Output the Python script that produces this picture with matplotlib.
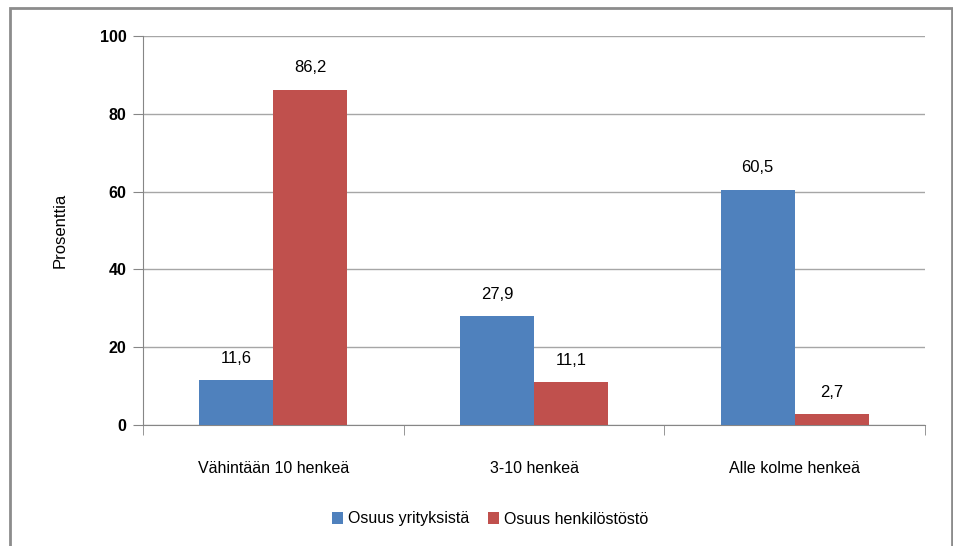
import matplotlib
matplotlib.use('Agg')

import matplotlib.pyplot as plt
from matplotlib.patches import Rectangle
import numpy as np

categories = ["Vähintään 10 henkeä", "3-10 henkeä", "Alle kolme henkeä"]
series_names = ["Osuus yrityksistä", "Osuus henkilöstöstö"]
yritykset = [11.6, 27.9, 60.5]
henkilosto = [86.2, 11.1, 2.7]
yticks = [0, 20, 40, 60, 80, 100]

blue = "#4F81BD"
red = "#C0504D"

plt.rcParams['font.family'] = ['Liberation Sans', 'DejaVu Sans']

fig = plt.figure(figsize=(9.54, 5.46), dpi=100)
ax = fig.add_axes([143 / 954, 1 - 425 / 546, (925 - 143) / 954, (425 - 36) / 546])

x = np.arange(len(categories))
w = 74 / 261
b1 = ax.bar(x - w / 2, yritykset, w, color=blue, label=series_names[0], zorder=3)
b2 = ax.bar(x + w / 2, henkilosto, w, color=red, label=series_names[1], zorder=3)

for bars, vals in [(b1, yritykset), (b2, henkilosto)]:
    for r, v in zip(bars, vals):
        ax.text(r.get_x() + r.get_width() / 2, v + 5.6, f"{v:.1f}".replace(".", ","),
                ha='center', va='center', fontsize=12, color='black')

ax.set_xlim(-0.5, 2.5)
ax.set_ylim(0, 100)
ax.set_yticks(yticks)
ax.set_yticklabels([str(t) for t in yticks], fontsize=11.5, fontweight='bold')
ax.set_xticks(x)
ax.set_xticklabels(categories, fontsize=11.5)
ax.set_xticks([-0.5, 0.5, 1.5, 2.5], minor=True)
ax.tick_params(axis='x', which='major', length=0, pad=26)
ax.tick_params(axis='x', which='minor', length=7, color='#868686', direction='out')
ax.tick_params(axis='y', length=7, color='#868686', direction='out', pad=5)
ax.yaxis.grid(True, color='#A6A6A6', linewidth=1, zorder=0)
ax.set_axisbelow(True)

for s in ['top', 'right']:
    ax.spines[s].set_visible(False)
ax.spines['left'].set_color('#868686')
ax.spines['bottom'].set_color('#868686')

ax.set_ylabel("Prosenttia", fontsize=12, labelpad=23)

ax.legend(loc='center', bbox_to_anchor=(490 / 954, 1 - 519 / 546), bbox_transform=fig.transFigure,
          ncol=2, frameon=False, fontsize=11.5, handlelength=0.7, handleheight=0.7,
          handletextpad=0.3, columnspacing=1.2)

fig.patches.append(Rectangle((10 / 954, -0.02), (952 - 10) / 954, 1.02 - 8 / 546,
                             transform=fig.transFigure, fill=False, edgecolor='#8C8C8C',
                             linewidth=2, zorder=10))

fig.savefig("out.png", dpi=100)
plt.close(fig)
